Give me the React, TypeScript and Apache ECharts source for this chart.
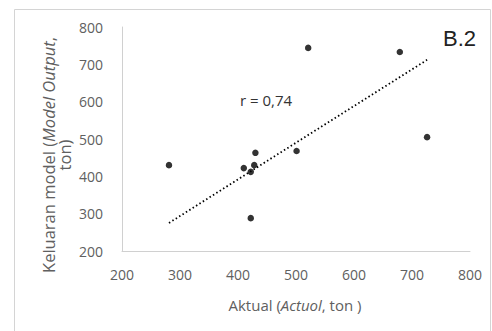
import React, { useEffect, useRef } from "react";
import * as echarts from "echarts";

const actualValues = [281, 521, 679, 726, 501, 430, 410, 422, 428, 422];
const modelValues = [430, 744, 733, 505, 468, 463, 422, 412, 430, 288];
const trendX = [281, 726];
const trendY = [275, 712];
const xTicks = [200, 300, 400, 500, 600, 700, 800];
const yTicks = [200, 300, 400, 500, 600, 700, 800];
const rLabel = "r = 0,74";
const panelLabel = "B.2";

export default function App() {
  const ref = useRef<HTMLDivElement>(null);
  useEffect(() => {
    document.body.style.margin = "0";
    const chart = echarts.init(ref.current!, null, { renderer: "svg" });
    const font = "'Open Sans', sans-serif";
    chart.setOption({
      animation: false,
      backgroundColor: "#ffffff",
      grid: { left: 122, top: 27, right: 22, bottom: 80 },
      xAxis: {
        type: "value",
        min: xTicks[0],
        max: xTicks[xTicks.length - 1],
        interval: 100,
        axisLine: { show: true, lineStyle: { color: "#d0d0d0", width: 1 } },
        axisTick: { show: false },
        splitLine: { show: false },
        axisLabel: { color: "#606060", fontSize: 14, fontFamily: font, margin: 16 },
      },
      yAxis: {
        type: "value",
        min: yTicks[0],
        max: yTicks[yTicks.length - 1],
        interval: 100,
        axisLine: { show: true, lineStyle: { color: "#d0d0d0", width: 1 } },
        axisTick: { show: false },
        splitLine: { show: false },
        axisLabel: { color: "#606060", fontSize: 14, fontFamily: font, margin: 19 },
      },
      series: [
        {
          type: "line",
          data: trendX.map((x, i) => [x, trendY[i]]),
          showSymbol: false,
          symbol: "none",
          lineStyle: { color: "#000", width: 1.8, type: [1.5, 2.5] },
          silent: true,
          z: 1,
        },
        {
          type: "scatter",
          data: actualValues.map((x, i) => [x, modelValues[i]]),
          symbol: "circle",
          symbolSize: 6.5,
          itemStyle: { color: "#000" },
          z: 2,
        },
      ],
      graphic: [
        {
          type: "rect",
          shape: { x: 14.5, y: 9.5, width: 476, height: 340 },
          style: { fill: "none", stroke: "#d4d4d4", lineWidth: 1 },
          silent: true,
        },
        {
          type: "text",
          x: 56,
          y: 155,
          rotation: Math.PI / 2,
          style: {
            text: "{n|Keluaran model (}{i|Model Output}{n|,}\n{n|ton)}",
            align: "center",
            verticalAlign: "middle",
            fill: "#606060",
            rich: {
              n: { fontSize: 16.5, fontFamily: font, fill: "#606060", lineHeight: 16 },
              i: { fontSize: 16.5, fontFamily: font, fontStyle: "italic", fill: "#606060", lineHeight: 16 },
            },
          },
        },
        {
          type: "text",
          x: 295,
          y: 305,
          style: {
            text: "{n|Aktual (}{i|Actuol}{n|, ton )}",
            align: "center",
            verticalAlign: "middle",
            fill: "#606060",
            rich: {
              n: { fontSize: 15, fontFamily: font, fill: "#606060" },
              i: { fontSize: 15, fontFamily: font, fontStyle: "italic", fill: "#606060" },
            },
          },
        },
        {
          type: "text",
          x: 240,
          y: 100,
          style: {
            text: rLabel,
            fontSize: 15,
            fontFamily: font,
            fill: "#333",
            align: "left",
            verticalAlign: "middle",
          },
        },
        {
          type: "text",
          x: 443,
          y: 38,
          style: {
            text: panelLabel,
            fontSize: 22,
            fontFamily: "'Liberation Sans', Arial, sans-serif",
            fill: "#222",
            align: "left",
            verticalAlign: "middle",
          },
        },
      ],
    });
    return () => chart.dispose();
  }, []);
  return (
    <div
      ref={ref}
      style={{ position: "absolute", left: 0, top: 0, width: 492, height: 331 }}
    />
  );
}
